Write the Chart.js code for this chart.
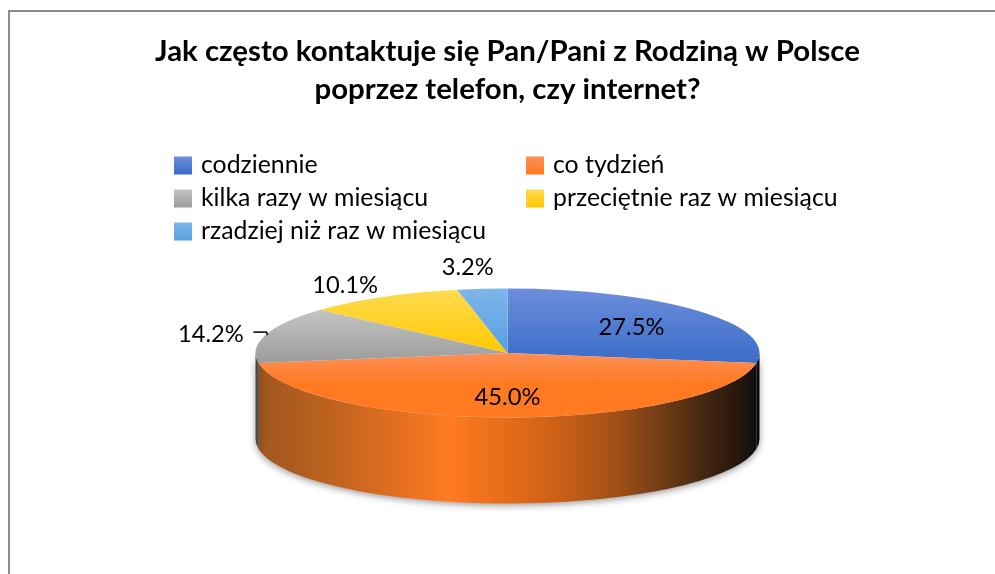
<!DOCTYPE html>
<html><head><meta charset="utf-8">
<style>html,body{margin:0;padding:0;background:#fff}canvas{display:block}</style>
<script src="https://cdn.jsdelivr.net/npm/chart.js@4"></script></head>
<body><div style="width:995px;height:574px"><canvas id="c" width="995" height="574"></canvas></div>
<script>
const titleLines = ['Jak często kontaktuje się Pan/Pani z Rodziną w Polsce', 'poprzez telefon, czy internet?'];
const categories = ['codziennie', 'co tydzień', 'kilka razy w miesiącu', 'przeciętnie raz w miesiącu', 'rzadziej niż raz w miesiącu'];
const values = [27.5, 45.0, 14.2, 10.1, 3.2];
const topColors = ['#6C8EDB', '#FF8F55', '#C4C4C4', '#FFDB50', '#7DB6EB'];
const bottomColors = ['#3A6CC8', '#FF7A20', '#9C9C9C', '#FFC800', '#589EDF'];
const wallColors = ['#0C0D12', null, '#4A4A4A', '#7F6000', '#2E75B6'];

const RX = 252, RY = 64.5, DEPTH = 86;
const FONT = 'Lato, Carlito, Calibri, sans-serif';
const labelFactors = [[.647,.62],[0,.68],[1.228,1.03],[1.30,1.2],[1.57,1.34]];

function sliceAngles(i){
  const total = values.reduce((a,b)=>a+b,0);
  let s = -Math.PI/2;
  for(let k=0;k<i;k++) s += values[k]/total*2*Math.PI;
  return [s, s + values[i]/total*2*Math.PI];
}
function sliceGradient(c){
  const chart = c.chart, area = chart.chartArea, i = c.dataIndex;
  if(!area || i===undefined) return bottomColors[i||0];
  const cy = (area.top+area.bottom)/2;
  const [a,b] = sliceAngles(i);
  let lo = 0, hi = 0;
  const pts = [a,b];
  for(const q of [-Math.PI/2, Math.PI/2]) if(q>a && q<b) pts.push(q);
  for(const p of pts){ const s = Math.sin(p)*RX; lo = Math.min(lo,s); hi = Math.max(hi,s); }
  const g = chart.ctx.createLinearGradient(0, cy+lo, 0, cy+hi);
  g.addColorStop(0, topColors[i]);
  g.addColorStop(i===1 ? .5 : 1, bottomColors[i]);
  if(i===1) g.addColorStop(1, bottomColors[i]);
  return g;
}
function orangeWall(ctx, cx){
  const g = ctx.createLinearGradient(cx-RX, 0, cx+RX, 0);
  [[0,'#A0561F'],[.1,'#B25E20'],[.3,'#E8701F'],[.385,'#FF7B22'],[.48,'#E96E1A'],[.6,'#CC6016'],[.72,'#9E5018'],[.88,'#4A2A12'],[.95,'#2A180B'],[1,'#0C0D12']]
    .forEach(s=>g.addColorStop(s[0],s[1]));
  return g;
}
const pie3d = {
  id:'pie3d',
  beforeDraw(chart){
    const ctx = chart.ctx;
    ctx.save();
    ctx.strokeStyle = '#8E8E8E'; ctx.lineWidth = 2;
    ctx.beginPath(); ctx.moveTo(9,574); ctx.lineTo(9,11); ctx.lineTo(995,11); ctx.stroke();
    ctx.restore();
  },
  beforeDatasetsDraw(chart){
    const ctx = chart.ctx, arcs = chart.getDatasetMeta(0).data;
    const cx = arcs[0].x, cy = arcs[0].y;
    arcs.forEach((arc,i)=>{
      const a = Math.max(arc.startAngle,0), b = Math.min(arc.endAngle,Math.PI);
      if(b<=a) return;
      ctx.save();
      ctx.shadowColor = 'rgba(0,0,0,.4)'; ctx.shadowBlur = 7; ctx.shadowOffsetY = 2;
      ctx.fillStyle = i===1 ? orangeWall(ctx,cx) : wallColors[i];
      ctx.beginPath();
      ctx.ellipse(cx,cy,RX,RY,0,a,b);
      ctx.ellipse(cx,cy+DEPTH,RX,RY,0,b,a,true);
      ctx.closePath(); ctx.fill();
      ctx.restore();
    });
    ctx.save();
    ctx.translate(cx,cy); ctx.scale(1,RY/RX); ctx.translate(-cx,-cy);
  },
  afterDatasetsDraw(chart){
    const ctx = chart.ctx;
    ctx.restore();
    const arcs = chart.getDatasetMeta(0).data;
    const cx = arcs[0].x, cy = arcs[0].y;
    ctx.save();
    ctx.fillStyle = '#000'; ctx.textAlign='center'; ctx.textBaseline='middle';
    ctx.font = '23.7px '+FONT;
    arcs.forEach((arc,i)=>{
      const m = (arc.startAngle+arc.endAngle)/2, f = labelFactors[i];
      ctx.fillText(values[i].toFixed(1)+'%', cx+Math.cos(m)*RX*f[0], cy+Math.sin(m)*RY*f[1]);
    });
    // leader line of the 14.2% label
    const g = (arcs[2].startAngle+arcs[2].endAngle)/2;
    const ly = cy+Math.sin(g)*RY*labelFactors[2][1]-2;
    ctx.strokeStyle='#222'; ctx.lineWidth=1.8;
    ctx.beginPath(); ctx.moveTo(cx-254,ly); ctx.lineTo(cx-241,ly); ctx.lineTo(cx-240,ly+3); ctx.stroke();
    // legend
    ctx.textAlign='left';
    ctx.font = '24.8px '+FONT;
    const colX=[174,526], rowY=[165.5,198.5,231.5];
    categories.forEach((t,i)=>{
      const x=colX[i%2], y=rowY[Math.floor(i/2)];
      const gr=ctx.createLinearGradient(0,y-9,0,y+9);
      gr.addColorStop(0,topColors[i]); gr.addColorStop(1,bottomColors[i]);
      ctx.fillStyle=gr; ctx.fillRect(x,y-9,18,18);
      ctx.fillStyle='#000';
      ctx.fillText(t,x+27,y);
    });
    ctx.restore();
  }
};
new Chart(document.getElementById('c'),{
  type:'pie',
  data:{labels:categories,datasets:[{data:values,backgroundColor:sliceGradient,borderWidth:0,radius:RX,clip:false}]},
  options:{
    responsive:false,animation:false,
    layout:{padding:{left:20,right:0,top:0,bottom:0}},
    plugins:{
      legend:{display:false},tooltip:{enabled:false},
      title:{display:true,text:titleLines,color:'#000',font:{family:FONT,size:29.4,weight:'bold',lineHeight:1.29},padding:{top:33,bottom:23.2}}
    }
  },
  plugins:[pie3d]
});
</script></body></html>
